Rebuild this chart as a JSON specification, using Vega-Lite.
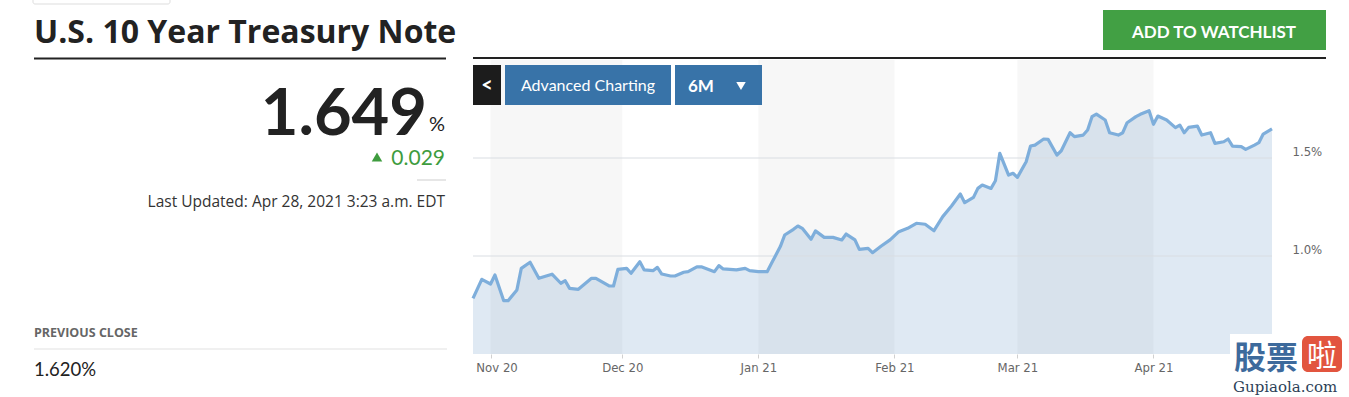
{
  "$schema": "https://vega.github.io/schema/vega-lite/v6.json",
  "width": 799,
  "height": 294,
  "autosize": "none",
  "padding": {"left": 473, "top": 60, "right": 77, "bottom": 43},
  "background": "white",
  "config": {
    "view": {"stroke": null},
    "axisX": {"title": null, "domain": false, "grid": false, "ticks": true, "tickSize": 4, "tickColor": "#d0d0d0",
              "labelFont": "DejaVu Sans Condensed, Liberation Sans Narrow, Roboto Condensed, Open Sans",
              "labelFontSize": 13, "labelColor": "#666666", "labelPadding": 3,
              "labelFlush": false, "labelOverlap": false, "labelBound": false},
    "axisY": {"title": null, "domain": false, "grid": false, "ticks": false, "tickSize": 0, "labelPadding": 20,
              "labelFont": "DejaVu Sans Condensed, Liberation Sans Narrow, Roboto Condensed, Open Sans",
              "labelFontSize": 13, "labelColor": "#666666", "labelAlign": "left",
              "labelBaseline": "middle", "labelOffset": -7}
  },
  "datasets": {
    "yield": [
      {"date": "2020-10-28", "yield": 0.784}, {"date": "2020-10-30", "yield": 0.881},
      {"date": "2020-11-01", "yield": 0.857}, {"date": "2020-11-02", "yield": 0.903},
      {"date": "2020-11-04", "yield": 0.772}, {"date": "2020-11-05", "yield": 0.772},
      {"date": "2020-11-07", "yield": 0.827}, {"date": "2020-11-08", "yield": 0.937},
      {"date": "2020-11-10", "yield": 0.968}, {"date": "2020-11-12", "yield": 0.886},
      {"date": "2020-11-15", "yield": 0.907}, {"date": "2020-11-17", "yield": 0.861},
      {"date": "2020-11-18", "yield": 0.874}, {"date": "2020-11-19", "yield": 0.835},
      {"date": "2020-11-21", "yield": 0.830}, {"date": "2020-11-24", "yield": 0.886},
      {"date": "2020-11-25", "yield": 0.886}, {"date": "2020-11-28", "yield": 0.847},
      {"date": "2020-11-29", "yield": 0.847}, {"date": "2020-11-30", "yield": 0.932},
      {"date": "2020-12-02", "yield": 0.937}, {"date": "2020-12-03", "yield": 0.912},
      {"date": "2020-12-05", "yield": 0.971}, {"date": "2020-12-06", "yield": 0.929},
      {"date": "2020-12-08", "yield": 0.925}, {"date": "2020-12-09", "yield": 0.942},
      {"date": "2020-12-10", "yield": 0.908}, {"date": "2020-12-12", "yield": 0.898},
      {"date": "2020-12-13", "yield": 0.898}, {"date": "2020-12-15", "yield": 0.917},
      {"date": "2020-12-16", "yield": 0.920}, {"date": "2020-12-18", "yield": 0.945},
      {"date": "2020-12-19", "yield": 0.945}, {"date": "2020-12-22", "yield": 0.920},
      {"date": "2020-12-23", "yield": 0.951}, {"date": "2020-12-24", "yield": 0.934},
      {"date": "2020-12-27", "yield": 0.929}, {"date": "2020-12-29", "yield": 0.937},
      {"date": "2020-12-30", "yield": 0.925}, {"date": "2021-01-01", "yield": 0.920},
      {"date": "2021-01-03", "yield": 0.920}, {"date": "2021-01-04", "yield": 0.963},
      {"date": "2021-01-06", "yield": 1.048}, {"date": "2021-01-07", "yield": 1.107},
      {"date": "2021-01-09", "yield": 1.136}, {"date": "2021-01-10", "yield": 1.153},
      {"date": "2021-01-11", "yield": 1.141}, {"date": "2021-01-13", "yield": 1.085},
      {"date": "2021-01-14", "yield": 1.128}, {"date": "2021-01-16", "yield": 1.095},
      {"date": "2021-01-18", "yield": 1.095}, {"date": "2021-01-20", "yield": 1.082},
      {"date": "2021-01-21", "yield": 1.112}, {"date": "2021-01-23", "yield": 1.082},
      {"date": "2021-01-24", "yield": 1.034}, {"date": "2021-01-26", "yield": 1.039},
      {"date": "2021-01-27", "yield": 1.017}, {"date": "2021-01-29", "yield": 1.051},
      {"date": "2021-01-31", "yield": 1.082}, {"date": "2021-02-02", "yield": 1.124},
      {"date": "2021-02-04", "yield": 1.141}, {"date": "2021-02-06", "yield": 1.167},
      {"date": "2021-02-08", "yield": 1.162}, {"date": "2021-02-10", "yield": 1.129},
      {"date": "2021-02-12", "yield": 1.201}, {"date": "2021-02-14", "yield": 1.255},
      {"date": "2021-02-16", "yield": 1.316}, {"date": "2021-02-17", "yield": 1.272},
      {"date": "2021-02-19", "yield": 1.299}, {"date": "2021-02-20", "yield": 1.345},
      {"date": "2021-02-21", "yield": 1.362}, {"date": "2021-02-23", "yield": 1.345},
      {"date": "2021-02-24", "yield": 1.384}, {"date": "2021-02-25", "yield": 1.524},
      {"date": "2021-02-27", "yield": 1.413}, {"date": "2021-02-28", "yield": 1.422},
      {"date": "2021-03-01", "yield": 1.401}, {"date": "2021-03-03", "yield": 1.481},
      {"date": "2021-03-04", "yield": 1.561}, {"date": "2021-03-05", "yield": 1.566},
      {"date": "2021-03-07", "yield": 1.597}, {"date": "2021-03-08", "yield": 1.595},
      {"date": "2021-03-10", "yield": 1.515}, {"date": "2021-03-11", "yield": 1.537},
      {"date": "2021-03-13", "yield": 1.629}, {"date": "2021-03-14", "yield": 1.609},
      {"date": "2021-03-16", "yield": 1.617}, {"date": "2021-03-17", "yield": 1.643},
      {"date": "2021-03-18", "yield": 1.711}, {"date": "2021-03-19", "yield": 1.724},
      {"date": "2021-03-21", "yield": 1.694}, {"date": "2021-03-22", "yield": 1.629},
      {"date": "2021-03-24", "yield": 1.617}, {"date": "2021-03-25", "yield": 1.629},
      {"date": "2021-03-26", "yield": 1.680}, {"date": "2021-03-28", "yield": 1.711},
      {"date": "2021-03-29", "yield": 1.723}, {"date": "2021-03-31", "yield": 1.741},
      {"date": "2021-04-01", "yield": 1.672}, {"date": "2021-04-02", "yield": 1.714},
      {"date": "2021-04-04", "yield": 1.694}, {"date": "2021-04-06", "yield": 1.655},
      {"date": "2021-04-07", "yield": 1.668}, {"date": "2021-04-08", "yield": 1.629},
      {"date": "2021-04-09", "yield": 1.656}, {"date": "2021-04-11", "yield": 1.663},
      {"date": "2021-04-12", "yield": 1.617}, {"date": "2021-04-14", "yield": 1.629},
      {"date": "2021-04-15", "yield": 1.575}, {"date": "2021-04-17", "yield": 1.583},
      {"date": "2021-04-18", "yield": 1.597}, {"date": "2021-04-19", "yield": 1.561},
      {"date": "2021-04-21", "yield": 1.558}, {"date": "2021-04-22", "yield": 1.544},
      {"date": "2021-04-24", "yield": 1.566}, {"date": "2021-04-25", "yield": 1.578},
      {"date": "2021-04-26", "yield": 1.622}, {"date": "2021-04-28", "yield": 1.649}
    ],
    "bands": [
      {"date": "2020-11-01", "end": "2020-12-01"},
      {"date": "2021-01-01", "end": "2021-02-01"},
      {"date": "2021-03-01", "end": "2021-04-01"}
    ],
    "grid": [
      {"yield": 1.0, "date": "2020-10-28", "end": "2021-04-28"},
      {"yield": 1.5, "date": "2020-10-28", "end": "2021-04-28"}
    ]
  },
  "encoding": {
    "x": {"field": "date", "type": "temporal",
          "scale": {"type": "utc", "domain": [{"year": 2020, "month": 10, "date": 28, "utc": true}, {"year": 2021, "month": 4, "date": 28, "utc": true}]},
          "axis": {"orient": "bottom",
                   "values": [{"year": 2020, "month": 11, "date": 1, "utc": true}, {"year": 2020, "month": 12, "date": 1, "utc": true}, {"year": 2021, "month": 1, "date": 1, "utc": true}, {"year": 2021, "month": 2, "date": 1, "utc": true}, {"year": 2021, "month": 3, "date": 1, "utc": true}, {"year": 2021, "month": 4, "date": 1, "utc": true}],
                   "labelExpr": "utcFormat(datum.value, '%b %y')",
                   "labelOffset": {"condition": {"test": "utcmonth(datum.value) == 10", "value": 6}, "value": 0}}},
    "y": {"field": "yield", "type": "quantitative",
          "scale": {"domain": [0.5, 2.0], "zero": false, "nice": false},
          "axis": {"orient": "right", "values": [1.0, 1.5], "labelExpr": "format(datum.value, '.1f') + '%'"}}
  },
  "layer": [
    {
      "data": {"name": "bands"},
      "mark": {"type": "rect", "fill": "#f7f7f7"},
      "encoding": {
        "x2": {"field": "end"},
        "y": null
      }
    },
    {
      "data": {"name": "yield"},
      "mark": {"type": "area", "fill": "#6f9cc9", "opacity": 0.22},
      "encoding": {"y2": {"datum": 0.5}}
    },
    {
      "data": {"name": "grid"},
      "mark": {"type": "rule", "color": "#d9dde2", "strokeWidth": 1},
      "encoding": {"x2": {"field": "end"}}
    },
    {
      "data": {"name": "yield"},
      "mark": {"type": "line", "stroke": "#7eaedb", "strokeWidth": 3.2, "strokeJoin": "round"}
    },
    {
      "data": {"values": [{"id": "tab"}]},
      "mark": {"type": "rect", "x": -440, "x2": -303, "y": -66, "y2": -56, "fill": "white", "stroke": "#dddddd", "strokeWidth": 1, "cornerRadius": 2},
      "encoding": {"x": null, "y": null}
    },
    {
      "data": {"values": [{"t": "U.S. 10 Year Treasury Note"}]},
      "mark": {"type": "text", "x": -439, "y": -17, "align": "left", "baseline": "alphabetic", "font": "Open Sans", "fontWeight": "bold", "fontSize": 32, "fill": "#222222"},
      "encoding": {"x": null, "y": null, "text": {"field": "t"}}
    },
    {
      "data": {"values": [{"id": "rule1"}]},
      "mark": {"type": "rect", "x": -439, "x2": -27, "y": -2.5, "y2": -0.5, "fill": "#222222"},
      "encoding": {"x": null, "y": null}
    },
    {
      "data": {"values": [{"t": "1.649"}]},
      "mark": {"type": "text", "x": -46, "y": 75, "align": "right", "baseline": "alphabetic", "font": "Lato", "fontWeight": "bold", "fontSize": 65, "fill": "#222222"},
      "encoding": {"x": null, "y": null, "text": {"field": "t"}}
    },
    {
      "data": {"values": [{"t": "%"}]},
      "mark": {"type": "text", "x": -44, "y": 71, "align": "left", "baseline": "alphabetic", "font": "Lato", "fontSize": 20, "fill": "#222222"},
      "encoding": {"x": null, "y": null, "text": {"field": "t"}}
    },
    {
      "data": {"values": [{"id": "up"}]},
      "mark": {"type": "point", "shape": "triangle-up", "filled": true, "x": -96, "y": 97, "size": 110, "fill": "#3e9c3e", "opacity": 1},
      "encoding": {"x": null, "y": null}
    },
    {
      "data": {"values": [{"t": "0.029"}]},
      "mark": {"type": "text", "x": -28, "y": 105, "align": "right", "baseline": "alphabetic", "font": "Lato", "fontSize": 21, "fill": "#3e9c3e"},
      "encoding": {"x": null, "y": null, "text": {"field": "t"}}
    },
    {
      "data": {"values": [{"id": "rule2"}]},
      "mark": {"type": "rect", "x": -56, "x2": -27, "y": 119.5, "y2": 120.5, "fill": "#cccccc"},
      "encoding": {"x": null, "y": null}
    },
    {
      "data": {"values": [{"t": "Last Updated: Apr 28, 2021 3:23 a.m. EDT"}]},
      "mark": {"type": "text", "x": -28, "y": 147, "align": "right", "baseline": "alphabetic", "font": "Open Sans", "fontSize": 15.5, "fill": "#333333"},
      "encoding": {"x": null, "y": null, "text": {"field": "t"}}
    },
    {
      "data": {"values": [{"t": "PREVIOUS CLOSE"}]},
      "mark": {"type": "text", "x": -439, "y": 277, "align": "left", "baseline": "alphabetic", "font": "Open Sans", "fontWeight": "bold", "fontSize": 12.5, "fill": "#666666"},
      "encoding": {"x": null, "y": null, "text": {"field": "t"}}
    },
    {
      "data": {"values": [{"id": "rule3"}]},
      "mark": {"type": "rect", "x": -439, "x2": -26, "y": 288.5, "y2": 289.5, "fill": "#e2e2e2"},
      "encoding": {"x": null, "y": null}
    },
    {
      "data": {"values": [{"t": "1.620%"}]},
      "mark": {"type": "text", "x": -439, "y": 316, "align": "left", "baseline": "alphabetic", "font": "Lato", "fontSize": 18.5, "fill": "#222222"},
      "encoding": {"x": null, "y": null, "text": {"field": "t"}}
    },
    {
      "data": {"values": [{"id": "watch"}]},
      "mark": {"type": "rect", "x": 630, "x2": 853, "y": -50, "y2": -10, "fill": "#42a044"},
      "encoding": {"x": null, "y": null}
    },
    {
      "data": {"values": [{"t": "ADD TO WATCHLIST"}]},
      "mark": {"type": "text", "x": 741, "y": -22, "align": "center", "baseline": "alphabetic", "font": "Lato", "fontWeight": "bold", "fontSize": 17, "fill": "white"},
      "encoding": {"x": null, "y": null, "text": {"field": "t"}}
    },
    {
      "data": {"values": [{"id": "rule4"}]},
      "mark": {"type": "rect", "x": 0, "x2": 853, "y": -3, "y2": -1, "fill": "#222222"},
      "encoding": {"x": null, "y": null}
    },
    {
      "data": {"values": [{"id": "back"}]},
      "mark": {"type": "rect", "x": 0, "x2": 28, "y": 5, "y2": 45, "fill": "#1c1c1c"},
      "encoding": {"x": null, "y": null}
    },
    {
      "data": {"values": [{"t": "<"}]},
      "mark": {"type": "text", "x": 14, "y": 32, "align": "center", "baseline": "alphabetic", "font": "Lato", "fontWeight": "bold", "fontSize": 20, "fill": "white"},
      "encoding": {"x": null, "y": null, "text": {"field": "t"}}
    },
    {
      "data": {"values": [{"id": "adv"}]},
      "mark": {"type": "rect", "x": 32, "x2": 198, "y": 5, "y2": 45, "fill": "#3873a8"},
      "encoding": {"x": null, "y": null}
    },
    {
      "data": {"values": [{"t": "Advanced Charting"}]},
      "mark": {"type": "text", "x": 115, "y": 31, "align": "center", "baseline": "alphabetic", "font": "Lato", "fontSize": 16, "fill": "white"},
      "encoding": {"x": null, "y": null, "text": {"field": "t"}}
    },
    {
      "data": {"values": [{"id": "range"}]},
      "mark": {"type": "rect", "x": 202, "x2": 289, "y": 5, "y2": 45, "fill": "#3873a8"},
      "encoding": {"x": null, "y": null}
    },
    {
      "data": {"values": [{"t": "6M"}]},
      "mark": {"type": "text", "x": 215, "y": 32, "align": "left", "baseline": "alphabetic", "font": "Lato", "fontWeight": "bold", "fontSize": 17, "fill": "white"},
      "encoding": {"x": null, "y": null, "text": {"field": "t"}}
    },
    {
      "data": {"values": [{"id": "down"}]},
      "mark": {"type": "point", "shape": "triangle-down", "filled": true, "x": 268, "y": 26, "size": 90, "fill": "white", "opacity": 1},
      "encoding": {"x": null, "y": null}
    },
    {
      "data": {"values": [{"id": "wmbg"}]},
      "mark": {"type": "rect", "x": 757, "x2": 876, "y": 274, "y2": 337, "fill": "white"},
      "encoding": {"x": null, "y": null}
    },
    {
      "data": {"values": [{"t": "股票"}]},
      "mark": {"type": "text", "x": 761, "y": 309, "align": "left", "baseline": "alphabetic", "font": "Noto Sans CJK SC", "fontWeight": "bold", "fontSize": 32, "fill": "#3d6a9c"},
      "encoding": {"x": null, "y": null, "text": {"field": "t"}}
    },
    {
      "data": {"values": [{"id": "wmred"}]},
      "mark": {"type": "rect", "x": 829, "x2": 869, "y": 276, "y2": 312, "fill": "#e2553f", "cornerRadius": 6},
      "encoding": {"x": null, "y": null}
    },
    {
      "data": {"values": [{"t": "啦"}]},
      "mark": {"type": "text", "x": 849, "y": 306, "align": "center", "baseline": "alphabetic", "font": "Noto Sans CJK SC", "fontSize": 30, "fill": "white"},
      "encoding": {"x": null, "y": null, "text": {"field": "t"}}
    },
    {
      "data": {"values": [{"t": "Gupiaola.com"}]},
      "mark": {"type": "text", "x": 760, "y": 332, "align": "left", "baseline": "alphabetic", "font": "DejaVu Serif", "fontSize": 15, "fill": "#2d3f58"},
      "encoding": {"x": null, "y": null, "text": {"field": "t"}}
    }
  ]
}
